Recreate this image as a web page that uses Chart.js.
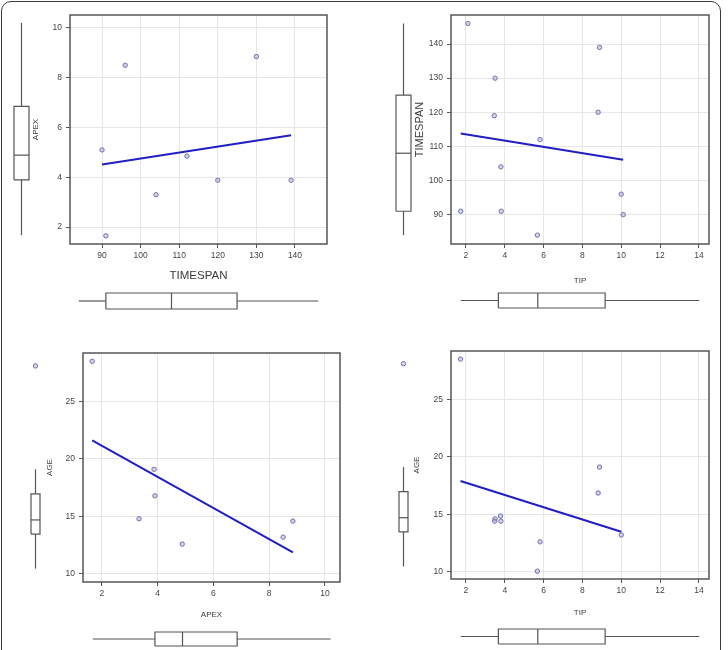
<!DOCTYPE html>
<html><head><meta charset="utf-8">
<script src="https://cdn.jsdelivr.net/npm/chart.js@4.4.1/dist/chart.umd.min.js"></script>
<style>
html,body{margin:0;padding:0;background:#fff;width:728px;height:650px;overflow:hidden;}
#frame{position:absolute;left:1px;top:1px;width:720px;height:720px;border:1.5px solid #3a3a3a;border-radius:10px;box-sizing:border-box;}
canvas{position:absolute;}
</style></head><body>
<div id="frame"></div>
<script>
// ---------- data ----------
const timespanA = [90, 91, 96, 104, 112, 120, 130, 139];
const apexA     = [5.1, 1.65, 8.5, 3.3, 4.85, 3.88, 8.85, 3.88];

const tipB      = [2.1, 1.73, 3.5, 3.46, 3.8, 3.82, 5.68, 5.82, 8.88, 8.81, 10.0, 10.1];
const timespanB = [146, 91, 130, 119, 104, 91, 84, 112, 139, 120, 96, 90];

const apexC = [1.65, 3.87, 3.9, 3.33, 4.88, 8.5, 8.85];
const ageC  = [28.5, 19.1, 16.8, 14.8, 12.6, 13.2, 14.6];

const tipD = [1.72, 8.88, 8.81, 3.78, 3.5, 3.48, 3.8, 5.82, 5.68, 10.0];
const ageD = [28.5, 19.1, 16.85, 14.85, 14.6, 14.4, 14.4, 12.6, 10.05, 13.2];

// boxplot summaries [min, q1, median, q3, max]
const boxTIMESPAN = [84, 91, 108, 125, 146];
const boxAPEX     = [1.67, 3.9, 4.89, 6.85, 10.2];
const boxTIP      = [1.73, 3.67, 5.7, 9.17, 14.02];
const boxAGE      = [10.06, 13.2, 14.49, 16.86, 19.1];
const outAGE      = [28.5];
const outNone     = [];

// tick labels
const ticksTimespanX = [90, 100, 110, 120, 130, 140];
const ticksApexY     = [2, 4, 6, 8, 10];
const ticksTipX      = [2, 4, 6, 8, 10, 12, 14];
const ticksTimespanY = [90, 100, 110, 120, 130, 140];
const ticksApexX     = [2, 4, 6, 8, 10];
const ticksAgeY      = [10, 15, 20, 25];

// ---------- helpers ----------
const FONT = 'Arial, "Liberation Sans", sans-serif';
const TXT = '#444';
Chart.defaults.font.family = FONT;

function fitLine(xs, ys){
  const n = xs.length;
  const mx = xs.reduce((a,b)=>a+b,0)/n, my = ys.reduce((a,b)=>a+b,0)/n;
  let sxy=0, sxx=0;
  for(let i=0;i<n;i++){ sxy+=(xs[i]-mx)*(ys[i]-my); sxx+=(xs[i]-mx)*(xs[i]-mx); }
  const b = sxy/sxx, a = my-b*mx;
  const x0 = Math.min(...xs), x1 = Math.max(...xs);
  return [{x:x0,y:a+b*x0},{x:x1,y:a+b*x1}];
}

const framePlugin = {id:'frameBox', afterDatasetsDraw(chart){
  const {ctx, chartArea:a} = chart;
  ctx.save(); ctx.strokeStyle='#555'; ctx.lineWidth=1.5;
  ctx.strokeRect(a.left, a.top, a.right-a.left, a.bottom-a.top);
  ctx.restore();
}};

function makeCanvas(left, top, w, h){
  const c = document.createElement('canvas');
  c.width = w; c.height = h;
  c.style.left = left+'px'; c.style.top = top+'px';
  c.style.width = w+'px'; c.style.height = h+'px';
  document.body.appendChild(c);
  return c;
}

const pointStyle = {pointRadius:2.2, pointBorderWidth:1, pointBorderColor:'#7070ae', pointBackgroundColor:'rgba(170,170,215,0.5)'};

function scatterPanel(p){
  const lhX = p.xTitleSize*1.2, lhY = p.yTitleSize*1.2;
  const cLeft = Math.round(p.yTitleX - lhY/2);
  const cTop = p.area.t - 10;
  const cBottom = Math.round(p.xTitleY + lhX/2) + 2;
  const cRight = p.area.r + 15;
  const yW = p.area.l - cLeft;
  const xH = (cBottom - 2) - p.area.b;
  const c = makeCanvas(cLeft, cTop, cRight-cLeft, cBottom-cTop);
  const pts = p.xs.map((x,i)=>({x:x, y:p.ys[i]}));
  new Chart(c, {
    type:'scatter',
    data:{datasets:[
      Object.assign({data:pts, showLine:false, clip:false}, pointStyle),
      {data:fitLine(p.xs,p.ys), showLine:true, borderColor:'#1f1fc4', borderWidth:2, pointRadius:0, clip:false}
    ]},
    options:{
      responsive:false, animation:false, devicePixelRatio:1, events:[],
      layout:{padding:{left:0, top:10, right:15, bottom:2}},
      plugins:{legend:{display:false}, tooltip:{enabled:false}},
      scales:{
        x:{type:'linear', position:'bottom', min:p.xRange[0], max:p.xRange[1],
           afterBuildTicks:s=>{ s.ticks = p.xTicks.map(v=>({value:v})); },
           afterFit:s=>{ s.height = xH; },
           ticks:{color:TXT, font:{size:8.5}, padding:3, maxRotation:0, autoSkip:false},
           grid:{color:'#e6e6e6', lineWidth:1, tickColor:'#555', tickLength:4},
           border:{display:false},
           title:{display:true, text:p.xTitle, color:'#3a3a3a', font:{size:p.xTitleSize}, padding:0}},
        y:{type:'linear', position:'left', min:p.yRange[0], max:p.yRange[1],
           afterBuildTicks:s=>{ s.ticks = p.yTicks.map(v=>({value:v})); },
           afterFit:s=>{ s.width = yW; },
           ticks:{color:TXT, font:{size:8.5}, padding:4, autoSkip:false},
           grid:{color:'#e6e6e6', lineWidth:1, tickColor:'#555', tickLength:4},
           border:{display:false},
           title:{display:true, text:p.yTitle, color:'#3a3a3a', font:{size:p.yTitleSize}, padding:0}}
      }
    },
    plugins:[framePlugin]
  });
}

// vertical: box spans cross pixels [c0,c1] horizontally; value axis spans [v0,v1] vertically
function boxChart(vertical, summary, outliers, vRange, v0, v1, c0, c1){
  const m = 5, w = c1 - c0;
  const cross = [-m/w, 1+m/w];
  let c;
  if (vertical) c = makeCanvas(c0-m, v0, w+2*m, v1-v0);
  else c = makeCanvas(v0, c0-m, v1-v0, w+2*m);
  const [mn,q1,md,q3,mx] = summary;
  const P = (cv, vv) => vertical ? {x:cv, y:vv} : {x:vv, y:cv};
  const line = {showLine:true, pointRadius:0, borderColor:'#555', borderWidth:1.2, clip:false, fill:false};
  const ds = [
    Object.assign({data:[P(0.5,mn),P(0.5,q1)]}, line),
    Object.assign({data:[P(0.5,q3),P(0.5,mx)]}, line),
    Object.assign({data:[P(0,q1),P(1,q1),P(1,q3),P(0,q3),P(0,q1)]}, line),
    Object.assign({data:[P(0,md),P(1,md)]}, line),
    Object.assign({data:outliers.map(v=>P(0.5,v)), showLine:false, clip:false}, pointStyle)
  ];
  const vAxis = {type:'linear', display:false, min:vRange[0], max:vRange[1]};
  const cAxis = {type:'linear', display:false, min:cross[0], max:cross[1]};
  new Chart(c, {
    type:'scatter', data:{datasets:ds},
    options:{responsive:false, animation:false, devicePixelRatio:1, events:[],
      layout:{padding:0},
      plugins:{legend:{display:false}, tooltip:{enabled:false}},
      scales: vertical ? {x:cAxis, y:vAxis} : {x:vAxis, y:cAxis}}
  });
}

// ---------- panels ----------
const P1 = {area:{l:70,t:15,r:327,b:244}, xRange:[81.7,148.3], yRange:[1.32,10.52],
  xs:timespanA, ys:apexA, xTicks:ticksTimespanX, yTicks:ticksApexY,
  xTitle:'TIMESPAN', xTitleSize:11.5, xTitleY:276, yTitle:'APEX', yTitleSize:8, yTitleX:36};
const P2 = {area:{l:451,t:15,r:709,b:244}, xRange:[1.23,14.52], yRange:[81.4,148.5],
  xs:tipB, ys:timespanB, xTicks:ticksTipX, yTicks:ticksTimespanY,
  xTitle:'TIP', xTitleSize:8, xTitleY:281, yTitle:'TIMESPAN', yTitleSize:11, yTitleX:420};
const P3 = {area:{l:83,t:353,r:340,b:582}, xRange:[1.32,10.54], yRange:[9.3,29.22],
  xs:apexC, ys:ageC, xTicks:ticksApexX, yTicks:ticksAgeY,
  xTitle:'APEX', xTitleSize:8, xTitleY:615, yTitle:'AGE', yTitleSize:8, yTitleX:50};
const P4 = {area:{l:451,t:351,r:709,b:579}, xRange:[1.23,14.52], yRange:[9.37,29.2],
  xs:tipD, ys:ageD, xTicks:ticksTipX, yTicks:ticksAgeY,
  xTitle:'TIP', xTitleSize:8, xTitleY:613, yTitle:'AGE', yTitleSize:8, yTitleX:417};

[P1,P2,P3,P4].forEach(scatterPanel);

// marginal boxplots
boxChart(true,  boxAPEX, outNone, P1.yRange, P1.area.t, P1.area.b, 14, 29);
boxChart(false, boxTIMESPAN, outNone, P1.xRange, P1.area.l, P1.area.r, 293, 309);
boxChart(true,  boxTIMESPAN, outNone, P2.yRange, P2.area.t, P2.area.b, 396, 411);
boxChart(false, boxTIP, outNone, P2.xRange, P2.area.l, P2.area.r, 293, 308);
boxChart(true,  boxAGE, outAGE, P3.yRange, P3.area.t, P3.area.b, 28, 43);
boxChart(false, boxAPEX, outNone, P3.xRange, P3.area.l, P3.area.r, 632, 646);
boxChart(true,  boxAGE, outAGE, P4.yRange, P4.area.t, P4.area.b, 396, 411);
boxChart(false, boxTIP, outNone, P4.xRange, P4.area.l, P4.area.r, 629, 644);
</script>
</body></html>
